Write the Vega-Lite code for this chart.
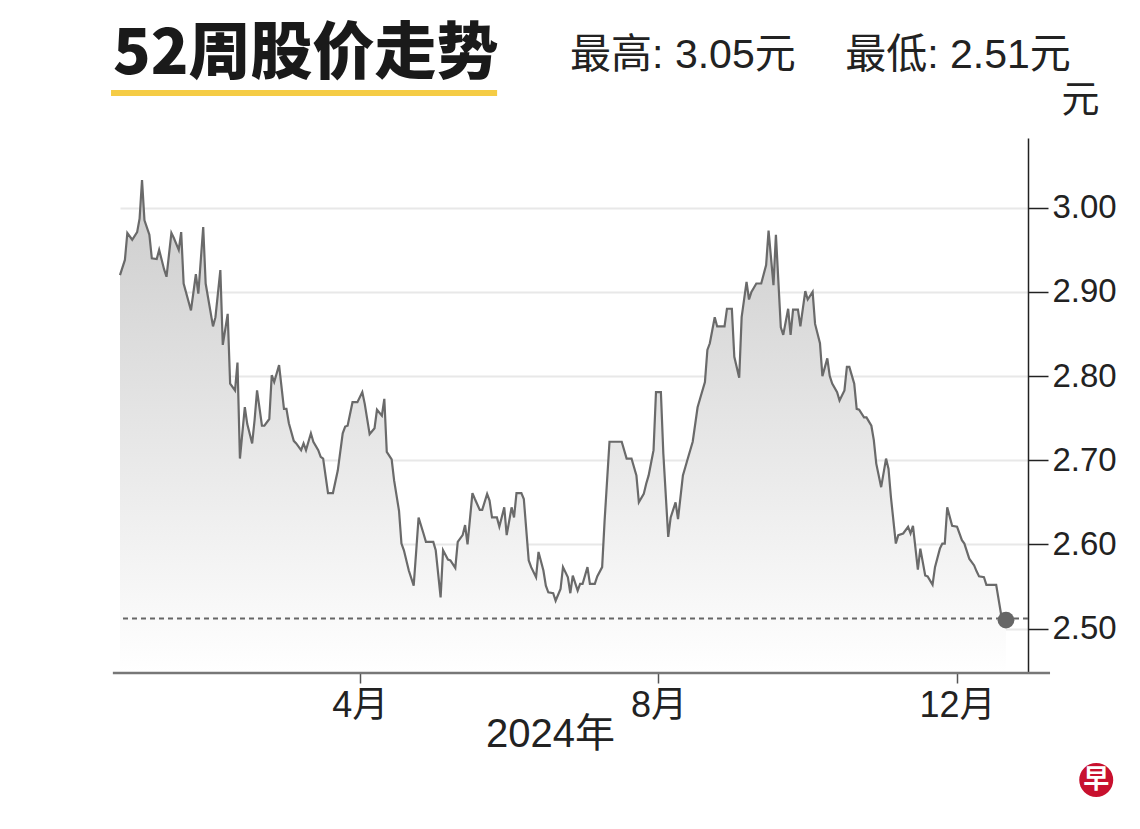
{
"$schema": "https://vega.github.io/schema/vega-lite/v6.json",
"width": 908,
"height": 535,
"autosize": {"type": "none"},
"padding": {"left": 120, "top": 138, "right": 112, "bottom": 156},
"background": "white",
"config": {"view": {"stroke": null}, "font": "Liberation Sans, Noto Sans CJK SC"},
"datasets": {"prices": [
{"date":"2023-12-25","price":2.920},{"date":"2023-12-27","price":2.938},{"date":"2023-12-28","price":2.970},{"date":"2023-12-30","price":2.962},
{"date":"2024-01-01","price":2.971},{"date":"2024-01-02","price":2.987},{"date":"2024-01-03","price":3.033},{"date":"2024-01-04","price":2.985},
{"date":"2024-01-06","price":2.968},{"date":"2024-01-07","price":2.940},{"date":"2024-01-09","price":2.939},{"date":"2024-01-10","price":2.950},
{"date":"2024-01-12","price":2.927},{"date":"2024-01-13","price":2.918},{"date":"2024-01-15","price":2.970},{"date":"2024-01-16","price":2.964},
{"date":"2024-01-18","price":2.950},{"date":"2024-01-19","price":2.971},{"date":"2024-01-20","price":2.910},{"date":"2024-01-23","price":2.878},
{"date":"2024-01-25","price":2.921},{"date":"2024-01-26","price":2.898},{"date":"2024-01-28","price":2.977},{"date":"2024-01-29","price":2.910},
{"date":"2024-02-01","price":2.859},{"date":"2024-02-02","price":2.870},{"date":"2024-02-04","price":2.926},{"date":"2024-02-05","price":2.837},
{"date":"2024-02-07","price":2.874},{"date":"2024-02-08","price":2.791},{"date":"2024-02-10","price":2.783},{"date":"2024-02-11","price":2.816},
{"date":"2024-02-12","price":2.702},{"date":"2024-02-14","price":2.763},{"date":"2024-02-15","price":2.743},{"date":"2024-02-17","price":2.720},
{"date":"2024-02-18","price":2.748},{"date":"2024-02-19","price":2.783},{"date":"2024-02-21","price":2.741},{"date":"2024-02-22","price":2.741},
{"date":"2024-02-24","price":2.749},{"date":"2024-02-25","price":2.801},{"date":"2024-02-26","price":2.793},{"date":"2024-02-28","price":2.813},
{"date":"2024-03-01","price":2.761},{"date":"2024-03-02","price":2.761},{"date":"2024-03-03","price":2.744},{"date":"2024-03-05","price":2.723},
{"date":"2024-03-06","price":2.720},{"date":"2024-03-08","price":2.712},{"date":"2024-03-09","price":2.720},{"date":"2024-03-10","price":2.712},
{"date":"2024-03-12","price":2.732},{"date":"2024-03-13","price":2.722},{"date":"2024-03-15","price":2.712},{"date":"2024-03-16","price":2.704},
{"date":"2024-03-17","price":2.702},{"date":"2024-03-19","price":2.661},{"date":"2024-03-21","price":2.661},{"date":"2024-03-23","price":2.688},
{"date":"2024-03-25","price":2.732},{"date":"2024-03-26","price":2.740},{"date":"2024-03-27","price":2.741},{"date":"2024-03-29","price":2.769},
{"date":"2024-03-31","price":2.769},{"date":"2024-04-02","price":2.781},{"date":"2024-04-03","price":2.767},{"date":"2024-04-05","price":2.731},
{"date":"2024-04-07","price":2.738},{"date":"2024-04-08","price":2.760},{"date":"2024-04-10","price":2.753},{"date":"2024-04-11","price":2.773},
{"date":"2024-04-12","price":2.710},{"date":"2024-04-14","price":2.701},{"date":"2024-04-15","price":2.676},{"date":"2024-04-17","price":2.640},
{"date":"2024-04-18","price":2.601},{"date":"2024-04-19","price":2.593},{"date":"2024-04-21","price":2.569},{"date":"2024-04-23","price":2.551},
{"date":"2024-04-24","price":2.591},{"date":"2024-04-25","price":2.632},{"date":"2024-04-27","price":2.613},{"date":"2024-04-28","price":2.603},
{"date":"2024-05-01","price":2.603},{"date":"2024-05-02","price":2.593},{"date":"2024-05-04","price":2.537},{"date":"2024-05-05","price":2.593},
{"date":"2024-05-07","price":2.582},{"date":"2024-05-08","price":2.581},{"date":"2024-05-10","price":2.572},{"date":"2024-05-11","price":2.603},
{"date":"2024-05-13","price":2.611},{"date":"2024-05-14","price":2.623},{"date":"2024-05-15","price":2.600},{"date":"2024-05-17","price":2.661},
{"date":"2024-05-18","price":2.654},{"date":"2024-05-20","price":2.641},{"date":"2024-05-21","price":2.641},{"date":"2024-05-23","price":2.660},
{"date":"2024-05-24","price":2.652},{"date":"2024-05-25","price":2.632},{"date":"2024-05-27","price":2.632},{"date":"2024-05-28","price":2.621},
{"date":"2024-05-30","price":2.644},{"date":"2024-05-31","price":2.611},{"date":"2024-06-02","price":2.644},{"date":"2024-06-03","price":2.632},
{"date":"2024-06-04","price":2.661},{"date":"2024-06-06","price":2.661},{"date":"2024-06-07","price":2.654},{"date":"2024-06-09","price":2.581},
{"date":"2024-06-10","price":2.573},{"date":"2024-06-12","price":2.561},{"date":"2024-06-13","price":2.591},{"date":"2024-06-15","price":2.569},
{"date":"2024-06-16","price":2.551},{"date":"2024-06-17","price":2.543},{"date":"2024-06-19","price":2.542},{"date":"2024-06-20","price":2.533},
{"date":"2024-06-22","price":2.547},{"date":"2024-06-23","price":2.573},{"date":"2024-06-25","price":2.561},{"date":"2024-06-26","price":2.542},
{"date":"2024-06-27","price":2.563},{"date":"2024-06-29","price":2.545},{"date":"2024-06-30","price":2.553},{"date":"2024-07-01","price":2.553},
{"date":"2024-07-03","price":2.573},{"date":"2024-07-04","price":2.553},{"date":"2024-07-06","price":2.553},{"date":"2024-07-07","price":2.562},
{"date":"2024-07-09","price":2.573},{"date":"2024-07-10","price":2.628},{"date":"2024-07-12","price":2.722},{"date":"2024-07-13","price":2.722},
{"date":"2024-07-15","price":2.722},{"date":"2024-07-16","price":2.722},{"date":"2024-07-17","price":2.722},{"date":"2024-07-19","price":2.702},
{"date":"2024-07-20","price":2.702},{"date":"2024-07-21","price":2.702},{"date":"2024-07-23","price":2.682},{"date":"2024-07-24","price":2.650},
{"date":"2024-07-26","price":2.660},{"date":"2024-07-27","price":2.672},{"date":"2024-07-28","price":2.682},{"date":"2024-07-30","price":2.712},
{"date":"2024-07-31","price":2.781},{"date":"2024-08-02","price":2.781},{"date":"2024-08-03","price":2.708},{"date":"2024-08-05","price":2.609},
{"date":"2024-08-06","price":2.632},{"date":"2024-08-08","price":2.650},{"date":"2024-08-09","price":2.630},{"date":"2024-08-11","price":2.682},
{"date":"2024-08-12","price":2.692},{"date":"2024-08-13","price":2.702},{"date":"2024-08-15","price":2.722},{"date":"2024-08-17","price":2.763},
{"date":"2024-08-18","price":2.773},{"date":"2024-08-20","price":2.793},{"date":"2024-08-21","price":2.831},{"date":"2024-08-22","price":2.839},
{"date":"2024-08-24","price":2.870},{"date":"2024-08-25","price":2.859},{"date":"2024-08-26","price":2.859},{"date":"2024-08-28","price":2.859},
{"date":"2024-08-29","price":2.880},{"date":"2024-08-31","price":2.880},{"date":"2024-09-01","price":2.823},{"date":"2024-09-03","price":2.798},
{"date":"2024-09-04","price":2.870},{"date":"2024-09-06","price":2.912},{"date":"2024-09-07","price":2.891},{"date":"2024-09-08","price":2.900},
{"date":"2024-09-10","price":2.910},{"date":"2024-09-11","price":2.910},{"date":"2024-09-12","price":2.910},{"date":"2024-09-14","price":2.932},
{"date":"2024-09-15","price":2.973},{"date":"2024-09-17","price":2.908},{"date":"2024-09-18","price":2.968},{"date":"2024-09-20","price":2.858},
{"date":"2024-09-21","price":2.849},{"date":"2024-09-23","price":2.880},{"date":"2024-09-24","price":2.849},{"date":"2024-09-25","price":2.879},
{"date":"2024-09-27","price":2.879},{"date":"2024-09-28","price":2.859},{"date":"2024-09-30","price":2.901},{"date":"2024-10-01","price":2.891},
{"date":"2024-10-03","price":2.900},{"date":"2024-10-04","price":2.862},{"date":"2024-10-06","price":2.839},{"date":"2024-10-07","price":2.800},
{"date":"2024-10-09","price":2.821},{"date":"2024-10-10","price":2.800},{"date":"2024-10-11","price":2.791},{"date":"2024-10-13","price":2.781},
{"date":"2024-10-14","price":2.771},{"date":"2024-10-16","price":2.783},{"date":"2024-10-17","price":2.811},{"date":"2024-10-18","price":2.811},
{"date":"2024-10-20","price":2.791},{"date":"2024-10-21","price":2.761},{"date":"2024-10-22","price":2.760},{"date":"2024-10-24","price":2.751},
{"date":"2024-10-25","price":2.751},{"date":"2024-10-27","price":2.741},{"date":"2024-10-28","price":2.724},{"date":"2024-10-29","price":2.696},
{"date":"2024-10-31","price":2.668},{"date":"2024-11-02","price":2.702},{"date":"2024-11-03","price":2.690},{"date":"2024-11-04","price":2.656},
{"date":"2024-11-06","price":2.601},{"date":"2024-11-07","price":2.611},{"date":"2024-11-09","price":2.613},{"date":"2024-11-11","price":2.621},
{"date":"2024-11-12","price":2.613},{"date":"2024-11-13","price":2.622},{"date":"2024-11-15","price":2.570},{"date":"2024-11-16","price":2.595},
{"date":"2024-11-18","price":2.563},{"date":"2024-11-19","price":2.562},{"date":"2024-11-21","price":2.552},{"date":"2024-11-22","price":2.573},
{"date":"2024-11-24","price":2.595},{"date":"2024-11-25","price":2.601},{"date":"2024-11-26","price":2.601},{"date":"2024-11-27","price":2.644},
{"date":"2024-11-29","price":2.622},{"date":"2024-12-01","price":2.621},{"date":"2024-12-03","price":2.605},{"date":"2024-12-04","price":2.601},
{"date":"2024-12-05","price":2.592},{"date":"2024-12-06","price":2.583},{"date":"2024-12-08","price":2.575},{"date":"2024-12-09","price":2.568},
{"date":"2024-12-10","price":2.562},{"date":"2024-12-12","price":2.561},{"date":"2024-12-13","price":2.552},{"date":"2024-12-15","price":2.552},
{"date":"2024-12-16","price":2.552},{"date":"2024-12-17","price":2.552},{"date":"2024-12-19","price":2.517},{"date":"2024-12-21","price":2.510}
],
"one": [{"k": 1}]},
"layer": [
  {"data": {"name": "prices"},
   "mark": {"type": "area", "color": {"gradient": "linear", "x1": 0, "y1": 1, "x2": 0, "y2": 0,
      "stops": [{"offset": 0, "color": "#ffffff"}, {"offset": 1, "color": "#cccccc"}]}},
   "encoding": {
    "x": {"field": "date", "type": "temporal",
      "scale": {"type": "utc", "domain": [{"year":2023,"month":12,"date":25,"utc":true},{"year":2024,"month":12,"date":30,"utc":true}]},
      "axis": {"values": [{"year":2024,"month":4,"date":1,"utc":true},{"year":2024,"month":8,"date":1,"utc":true},{"year":2024,"month":12,"date":1,"utc":true}],
        "labelExpr": "(utcmonth(datum.value)+1) + '月'",
        "labelFont": "Liberation Sans, Noto Sans CJK SC", "labelFontSize": 36, "labelColor": "#222", "labelPadding": 5,
        "domain": false, "grid": false, "tickSize": 10, "tickColor": "#555", "tickWidth": 1.5,
        "title": "2024年", "titleFont": "Liberation Sans, Noto Sans CJK SC", "titleFontSize": 40, "titleFontWeight": "normal", "titleColor": "#222",
        "titleX": 430, "titleY": 61, "titleAlign": "center", "titleBaseline": "middle"}},
    "y": {"field": "price", "type": "quantitative",
      "scale": {"domain": [2.4472, 3.0829], "nice": false, "zero": false},
      "axis": {"orient": "right", "values": [2.5,2.6,2.7,2.8,2.9,3.0], "format": ".2f",
        "labelFont": "Liberation Sans", "labelFontSize": 33, "labelColor": "#222", "labelPadding": 4,
        "tickSize": 20, "tickColor": "#222", "tickWidth": 1.5, "domainColor": "#222", "domainWidth": 1.5,
        "grid": true, "gridColor": "#e8e8e8", "gridWidth": 2,
        "title": "元", "titleAngle": 0, "titleX": 52, "titleY": -38, "titleAlign": "center", "titleBaseline": "middle",
        "titleFont": "Noto Sans CJK SC", "titleFontSize": 38, "titleFontWeight": "normal", "titleColor": "#222"}},
    "y2": {"datum": 2.4472}}},
  {"data": {"name": "prices"},
   "mark": {"type": "line", "color": "#6a6a6a", "strokeWidth": 2.2},
   "encoding": {"x": {"field": "date", "type": "temporal"}, "y": {"field": "price", "type": "quantitative"}}},
  {"data": {"name": "one"},
   "mark": {"type": "rule", "color": "#666", "strokeWidth": 2, "strokeDash": [5, 4]},
   "encoding": {"y": {"datum": 2.512}}},
  {"data": {"name": "one"},
   "mark": {"type": "point", "filled": true, "color": "#666", "opacity": 1, "size": 280},
   "encoding": {"x": {"datum": {"year":2024,"month":12,"date":21,"utc":true}}, "y": {"datum": 2.51}}},
  {"data": {"name": "one"},
   "mark": {"type": "rule", "color": "#777", "strokeWidth": 2.5},
   "encoding": {"x": {"datum": {"year":2023,"month":12,"date":22,"hours":2,"utc":true}}, "x2": {"datum": {"year":2025,"month":1,"date":8,"utc":true}}, "y": {"datum": 2.4472}}},
  {"data": {"name": "one"},
   "mark": {"type": "rule", "color": "#f5cc45", "strokeWidth": 6, "strokeCap": "butt"},
   "encoding": {"x": {"datum": {"year":2023,"month":12,"date":21,"hours":8,"utc":true}}, "x2": {"datum": {"year":2024,"month":5,"date":27,"hours":2,"utc":true}}, "y": {"datum": 3.1364}}},
  {"data": {"name": "one"},
   "mark": {"type": "text", "align": "left", "baseline": "alphabetic", "font": "Noto Sans CJK SC", "fontWeight": 900, "fontSize": 62, "color": "#1a1a1a"},
   "encoding": {"x": {"datum": {"year":2023,"month":12,"date":22,"hours":3,"utc":true}}, "y": {"datum": 3.1589}, "text": {"value": "52周股价走势"}}},
  {"data": {"name": "one"},
   "mark": {"type": "text", "align": "left", "baseline": "alphabetic", "font": "Liberation Sans, Noto Sans CJK SC", "fontSize": 41, "color": "#222"},
   "encoding": {"x": {"datum": {"year":2024,"month":6,"date":25,"hours":22,"utc":true}}, "y": {"datum": 3.1661}, "text": {"value": "最高: 3.05元"}}},
  {"data": {"name": "one"},
   "mark": {"type": "text", "align": "left", "baseline": "alphabetic", "font": "Liberation Sans, Noto Sans CJK SC", "fontSize": 41, "color": "#222"},
   "encoding": {"x": {"datum": {"year":2024,"month":10,"date":16,"hours":7,"utc":true}}, "y": {"datum": 3.1661}, "text": {"value": "最低: 2.51元"}}},
  {"data": {"name": "one"},
   "mark": {"type": "point", "filled": true, "color": "#c8102e", "opacity": 1, "size": 1156},
   "encoding": {"x": {"datum": {"year":2025,"month":1,"date":26,"hours":21,"utc":true}}, "y": {"datum": 2.3201}}},
  {"data": {"name": "one"},
   "mark": {"type": "text", "align": "center", "baseline": "middle", "font": "Noto Sans CJK SC", "fontWeight": "bold", "fontSize": 26, "color": "#ffffff"},
   "encoding": {"x": {"datum": {"year":2025,"month":1,"date":26,"hours":21,"utc":true}}, "y": {"datum": 2.3201}, "text": {"value": "早"}}}
]
}
